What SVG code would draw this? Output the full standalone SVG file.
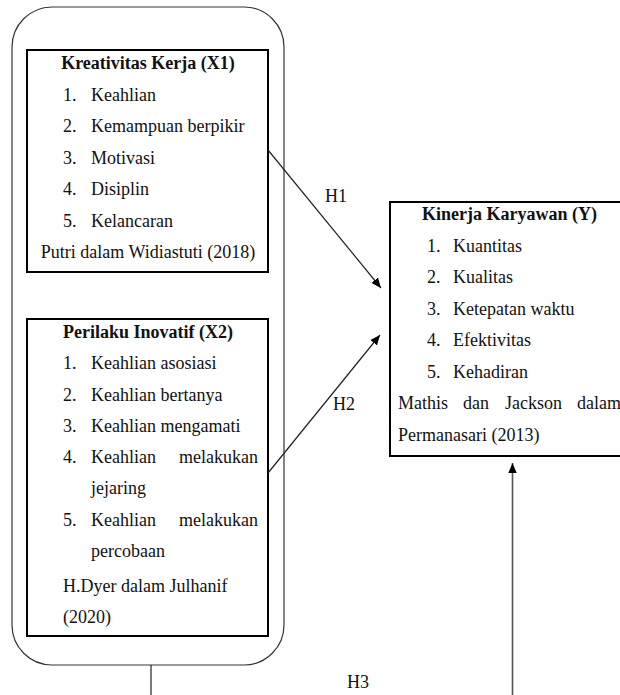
<svg xmlns="http://www.w3.org/2000/svg" width="620" height="695" viewBox="0 0 620 695">
<style>
text{font-size:18px;fill:#111}
.b{font-weight:bold}
.box{fill:#fff;stroke:#000;stroke-width:2}
.c{stroke:#222;stroke-width:1.2;fill:none}
</style>
<defs>
<marker id="ah" viewBox="0 0 10 10" refX="10" refY="5" markerWidth="10" markerHeight="10" markerUnits="userSpaceOnUse" orient="auto">
<path d="M0,0.8 L10,5 L0,9.2 z" fill="#000"/>
</marker>
</defs>
<rect width="620" height="695" fill="#fff"/>
<g font-family="Liberation Serif, Times New Roman, serif">
<g id="group-x">
<rect x="12" y="7" width="272" height="658" rx="40" ry="40" fill="none" stroke="#333" stroke-width="1.2"/>
</g>
<g id="x1">
<rect class="box" x="27" y="50" width="241" height="222"/>
<text class="b" x="148" y="69" text-anchor="middle">Kreativitas Kerja (X1)</text>
<text x="63" y="100.5">1.</text><text x="91" y="100.5">Keahlian</text>
<text x="63" y="132">2.</text><text x="91" y="132">Kemampuan berpikir</text>
<text x="63" y="163.5">3.</text><text x="91" y="163.5">Motivasi</text>
<text x="63" y="195">4.</text><text x="91" y="195">Disiplin</text>
<text x="63" y="226.5">5.</text><text x="91" y="226.5">Kelancaran</text>
<text x="148" y="258" text-anchor="middle">Putri dalam Widiastuti (2018)</text>
</g>
<g id="x2">
<rect class="box" x="27" y="319" width="241" height="317"/>
<text class="b" x="148" y="338" text-anchor="middle">Perilaku Inovatif (X2)</text>
<text x="63" y="369">1.</text><text x="91" y="369">Keahlian asosiasi</text>
<text x="63" y="400.5">2.</text><text x="91" y="400.5">Keahlian bertanya</text>
<text x="63" y="432">3.</text><text x="91" y="432">Keahlian mengamati</text>
<text x="63" y="463">4.</text><text x="91" y="463">Keahlian</text><text x="258" y="463" text-anchor="end">melakukan</text>
<text x="91" y="494">jejaring</text>
<text x="63" y="526">5.</text><text x="91" y="526">Keahlian</text><text x="258" y="526" text-anchor="end">melakukan</text>
<text x="91" y="557">percobaan</text>
<text x="63" y="592">H.Dyer dalam Julhanif</text>
<text x="63" y="623">(2020)</text>
</g>
<g id="y">
<rect class="box" x="390" y="202" width="240" height="254"/>
<text class="b" x="422" y="220">Kinerja Karyawan (Y)</text>
<text x="427" y="251.5">1.</text><text x="453" y="251.5">Kuantitas</text>
<text x="427" y="283">2.</text><text x="453" y="283">Kualitas</text>
<text x="427" y="314.5">3.</text><text x="453" y="314.5">Ketepatan waktu</text>
<text x="427" y="346">4.</text><text x="453" y="346">Efektivitas</text>
<text x="427" y="377.5">5.</text><text x="453" y="377.5">Kehadiran</text>
<text y="409"><tspan x="398">Mathis</tspan><tspan x="463">dan</tspan><tspan x="505">Jackson</tspan><tspan x="577">dalam</tspan></text>
<text x="398" y="440.5">Permanasari (2013)</text>
</g>
<g id="connectors">
<line class="c" x1="268" y1="150" x2="381" y2="288" marker-end="url(#ah)"/>
<line class="c" x1="268" y1="473" x2="380" y2="335" marker-end="url(#ah)"/>
<line class="c" x1="151" y1="665" x2="151" y2="695"/>
<line x1="512.5" y1="695" x2="512.5" y2="463" stroke="#555" stroke-width="1.6" marker-end="url(#ah)"/>
<text x="325" y="202">H1</text>
<text x="333" y="410">H2</text>
<text x="347" y="688">H3</text>
</g>
</g>
</svg>
